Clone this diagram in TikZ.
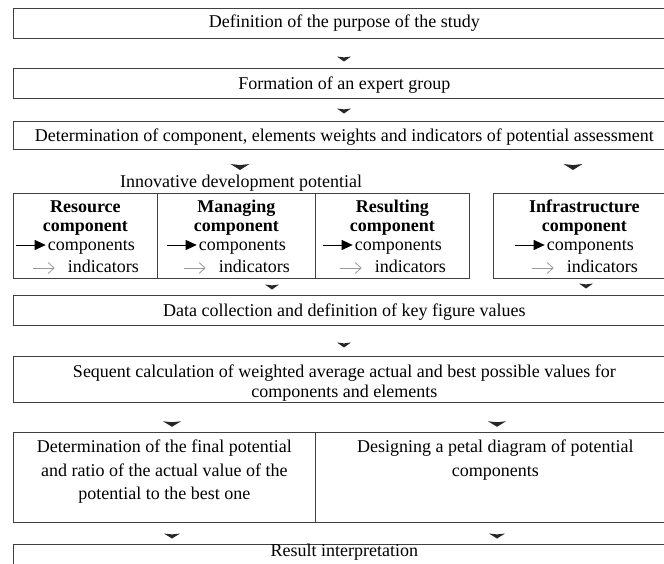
\documentclass[tikz,border=0pt]{standalone}
\usepackage{fontspec}
\setmainfont{Liberation Serif}
\usetikzlibrary{arrows.meta,calc}
\newcommand\fnorm{\fontsize{18}{20.5}\selectfont}
\newcommand\fwide{\fontsize{18}{23.5}\selectfont}
\newcommand\compcontent[2]{%
  \node[txt, font=\fnorm\bfseries, anchor=base] at ($(#1.north)+(0,19)$) {#2};
  \node[txt, font=\fnorm\bfseries, anchor=base] at ($(#1.north)+(0,38)$) {component};
  \node[txt, anchor=base] (#1-c) at ($(#1.north)+(6,57)$) {components};
  \node[txt, anchor=base] (#1-i) at ($(#1.north)+(18,79)$) {indicators};
  \draw[blackarr] ($(#1-c.base west)+(-32,-5)$) -- ($(#1-c.base west)+(-2,-5)$);
  \draw[grayarr] ($(#1-i.base west)+(-35,-4)$) -- ($(#1-i.base west)+(-13,-4)$);
}
\begin{document}
\begin{tikzpicture}[x=1pt,y=-1pt,
  box/.style={draw=black!75, line width=0.8pt, inner sep=0pt, anchor=north west, font=\fnorm, align=center},
  txt/.style={font=\fnorm, align=center, inner sep=0pt},
  blackarr/.style={draw=black, line width=0.8pt, -{Triangle[length=11pt,width=10pt]}},
  grayarr/.style={draw=black!40, line width=0.8pt, -{Straight Barb[length=6pt,width=11pt,line width=0.8pt]}},
  dnhead/.pic={\fill[black!85] (-7,-2.5) -- (0,-1.6) -- (7,-2.5) -- (0,2.5) -- cycle;}
]
\useasboundingbox (0,0) rectangle (664,563);
\node[box, minimum width=662pt, minimum height=30pt] (b1) at (13,8) {};
\node[txt] (b1t) at ($(b1.center)+(0,0)$) {Definition of the purpose of the study};
\node[box, minimum width=662pt, minimum height=30pt] (b2) at (13,68) {};
\node[txt] (b2t) at ($(b2.center)+(0,1.5)$) {Formation of an expert group};
\node[box, minimum width=662pt, minimum height=28pt] (b3) at (13,121) {};
\node[txt] (b3t) at ($(b3.center)+(0,1.5)$) {Determination of component, elements weights and indicators of potential assessment};
\node[txt] (inn) at (241,183) {Innovative development potential};
\node[box, minimum width=144pt, minimum height=85pt] (c1) at (13,193) {};
\node[box, minimum width=158pt, minimum height=85pt] (c2) at (157,193) {};
\node[box, minimum width=154pt, minimum height=85pt] (c3) at (315,193) {};
\node[box, minimum width=182pt, minimum height=85pt] (c4) at (493,193) {};
\compcontent{c1}{Resource}
\compcontent{c2}{Managing}
\compcontent{c3}{Resulting}
\compcontent{c4}{Infrastructure}
\node[box, minimum width=662pt, minimum height=30pt] (data) at (13,295) {};
\node[txt] (datat) at ($(data.center)+(0,1.5)$) {Data collection and definition of key figure values};
\node[box, minimum width=662pt, minimum height=46pt] (seq) at (13,356) {};
\node[txt] (seqt) at ($(seq.center)+(0,3.5)$) {Sequent calculation of weighted average actual and best possible values for\\components and elements};
\node[box, minimum width=302pt, minimum height=90pt] (detl) at (13,432) {};
\node[box, minimum width=360pt, minimum height=90pt] (detr) at (315,432) {};
\node[txt, font=\fwide, anchor=north] (detlt) at ($(detl.north)+(0,8)$) {Determination of the final potential\\and ratio of the actual value of the\\potential to the best one};
\node[txt, font=\fwide, anchor=north] (detrt) at ($(detr.north)+(0,8)$) {Designing a petal diagram of potential\\components};
\node[box, minimum width=662pt, minimum height=40pt] (res) at (13,544) {};
\node[txt, anchor=north] (rest) at ($(res.north)+(0,-0.5)$) {Result interpretation};
\pic at (344,59) {dnhead};
\pic at (344,111) {dnhead};
\pic[xscale=1.35,yscale=1.2] at (240,167) {dnhead};
\pic[xscale=1.35,yscale=1.2] at (573,167) {dnhead};
\pic at (272,287) {dnhead};
\pic at (586,286) {dnhead};
\pic at (344,345) {dnhead};
\pic[xscale=1.3,yscale=1.1] at (172,424) {dnhead};
\pic[xscale=1.3,yscale=1.1] at (497,424) {dnhead};
\pic[xscale=1.15] at (172,536) {dnhead};
\pic[xscale=1.15] at (497,536) {dnhead};
\end{tikzpicture}
\end{document}
